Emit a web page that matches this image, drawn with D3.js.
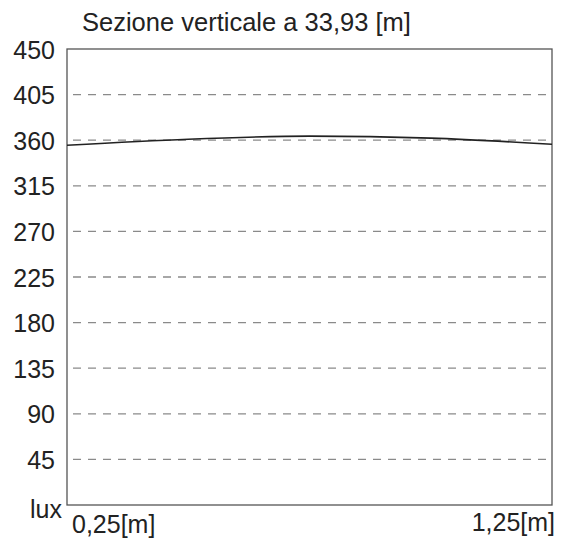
<!DOCTYPE html>
<html><head><meta charset="utf-8">
<script src="https://cdn.jsdelivr.net/npm/d3@7"></script>
<style>body{margin:0;background:#fff}svg{display:block}</style>
</head><body>
<svg id="c" width="571" height="542"></svg>
<script>
const title = "Sezione verticale a 33,93 [m]";
const yTicks = [45, 90, 135, 180, 225, 270, 315, 360, 405, 450];
const xLabels = ["0,25[m]", "1,25[m]"];
const xPos = [0.25, 0.5, 0.75, 1.0, 1.25];
const luxValues = [355, 361, 364, 362, 356];
const yUnit = "lux";

const svg = d3.select("#c");
const L = 67, R = 552, T = 49, B = 505;
const x = d3.scaleLinear().domain([0.25, 1.25]).range([L, R]);
const y = d3.scaleLinear().domain([0, 450]).range([B, T]);
const font = "'Liberation Sans', Arial, sans-serif";
const fs = 25;

// grid
svg.append("g").selectAll("line").data(yTicks.filter(d => d < 450)).join("line")
  .attr("x1", L + 6).attr("x2", R).attr("y1", d => y(d)).attr("y2", d => y(d))
  .attr("stroke", "#8a8a8a").attr("stroke-width", 1.3).attr("stroke-dasharray", "8,7");

// frame
svg.append("rect").attr("x", L).attr("y", T).attr("width", R - L).attr("height", B - T)
  .attr("fill", "none").attr("stroke", "#555").attr("stroke-width", 1.3);

// y axis labels
const yAxis = d3.axisLeft(y).tickValues(yTicks).tickSize(0).tickPadding(12).tickFormat(d3.format("d"));
const ga = svg.append("g").attr("transform", `translate(${L},0)`).call(yAxis);
ga.select(".domain").remove();
ga.selectAll("text").attr("font-family", font).attr("font-size", fs).attr("fill", "#222").attr("dy", "0.36em");

svg.append("text").attr("x", L - 5).attr("y", y(0) + 13).attr("text-anchor", "end")
  .attr("font-family", font).attr("font-size", fs).attr("fill", "#222").text(yUnit);

// x labels
svg.append("text").attr("x", x(0.25) + 5).attr("y", B + 28).attr("text-anchor", "start")
  .attr("font-family", font).attr("font-size", fs).attr("fill", "#222").text(xLabels[0]);
svg.append("text").attr("x", x(1.25) + 3).attr("y", B + 26).attr("text-anchor", "end")
  .attr("font-family", font).attr("font-size", fs).attr("fill", "#222").text(xLabels[1]);

// title
svg.append("text").attr("x", 82).attr("y", 31).attr("font-family", font).attr("font-size", 25.5)
  .attr("fill", "#222").text(title);

// data line
const line = d3.line().x((d, i) => x(xPos[i])).y(d => y(d)).curve(d3.curveMonotoneX);
svg.append("path").datum(luxValues).attr("d", line).attr("fill", "none")
  .attr("stroke", "#222").attr("stroke-width", 1.6);
</script>
</body></html>
